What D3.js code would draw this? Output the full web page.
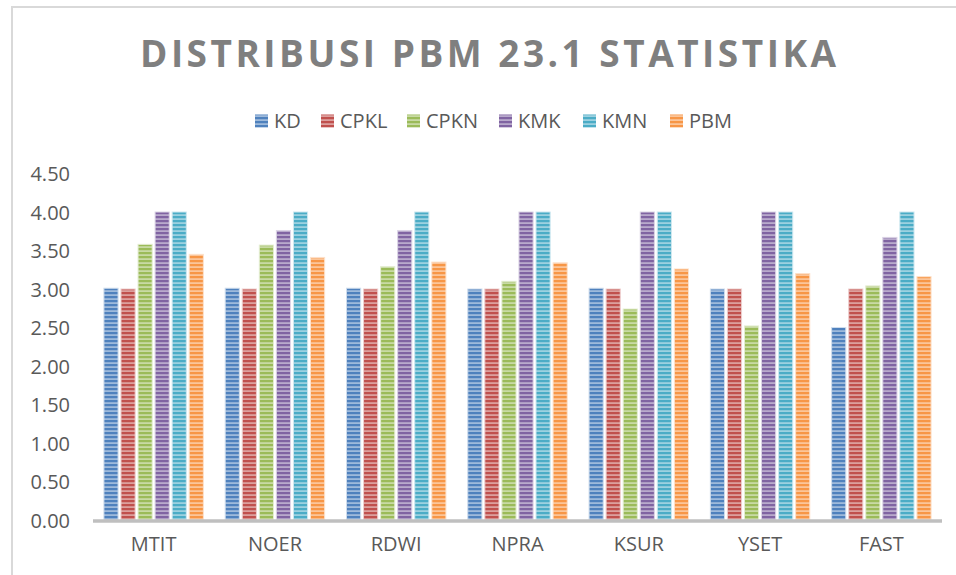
<!DOCTYPE html>
<html>
<head>
<meta charset="utf-8">
<script src="https://cdn.jsdelivr.net/npm/d3@7"></script>
<style>
  html, body { margin: 0; padding: 0; background: #fff; }
  svg { display: block; }
</style>
</head>
<body>
<svg id="chart" width="956" height="575"></svg>
<script>
const categories = ["MTIT", "NOER", "RDWI", "NPRA", "KSUR", "YSET", "FAST"];
const seriesNames = ["KD", "CPKL", "CPKN", "KMK", "KMN", "PBM"];
const KD   = [3.01, 3.01, 3.01, 3.00, 3.01, 3.00, 2.50];
const CPKL = [3.00, 3.00, 3.00, 3.00, 3.00, 3.00, 3.00];
const CPKN = [3.58, 3.57, 3.29, 3.10, 2.74, 2.52, 3.04];
const KMK  = [4.00, 3.76, 3.76, 4.00, 4.00, 4.00, 3.67];
const KMN  = [4.00, 4.00, 4.00, 4.00, 4.00, 4.00, 4.00];
const PBM  = [3.45, 3.41, 3.35, 3.34, 3.26, 3.20, 3.16];
const yTicks = [0, 0.5, 1, 1.5, 2, 2.5, 3, 3.5, 4, 4.5];
const title = "DISTRIBUSI PBM 23.1 STATISTIKA";

const seriesValues = [KD, CPKL, CPKN, KMK, KMN, PBM];
const colors = ["#4F81BD", "#C0504D", "#9BBB59", "#8064A2", "#4BACC6", "#F79646"];
const lightColors = colors.map(c => d3.interpolateRgb(c, "#ffffff")(0.45));

const svg = d3.select("#chart");
const font = "'Open Sans', 'Noto Sans', sans-serif";

// patterns
const defs = svg.append("defs");
colors.forEach((c, i) => {
  const p = defs.append("pattern")
    .attr("id", "pat" + i)
    .attr("patternUnits", "userSpaceOnUse")
    .attr("width", 8).attr("height", 4);
  p.append("rect").attr("width", 8).attr("height", 4).attr("fill", lightColors[i]);
  p.append("rect").attr("y", 0).attr("width", 8).attr("height", 2.2).attr("fill", c);
});

// chart border
svg.append("path")
  .attr("d", "M12,575 L12,7 L956,7")
  .attr("fill", "none").attr("stroke", "#d9d9d9").attr("stroke-width", 2);

// title
svg.append("text")
  .attr("x", 488).attr("y", 67)
  .attr("text-anchor", "middle")
  .attr("font-family", font)
  .attr("font-weight", "bold")
  .attr("font-size", 37)
  .attr("fill", "#7f7f7f")
  .attr("textLength", 696)
  .attr("lengthAdjust", "spacing")
  .text(title);

const plotRight = 942, plotBottom = 520;

const y = d3.scaleLinear().domain([0, 4.5]).range([plotBottom, 173.5]);
const x0 = d3.scaleBand().domain(categories).range([93, plotRight]).paddingInner(0).paddingOuter(0);
const bw0 = x0.bandwidth();
const x1 = d3.scaleBand().domain(seriesNames)
  .range([bw0 * 0.09, bw0 * 0.91]).paddingInner(0.17);

// y axis labels
const yAxis = d3.axisLeft(y).tickValues(yTicks).tickFormat(d3.format(".2f")).tickSize(0).tickPadding(0);
const gy = svg.append("g").attr("transform", "translate(70,0)").call(yAxis);
gy.select(".domain").remove();
gy.selectAll("text")
  .attr("font-family", font).attr("font-size", 20).attr("fill", "#595959")
  .attr("dy", "0.36em");

// bars
const groups = svg.append("g").selectAll("g")
  .data(categories)
  .join("g")
  .attr("transform", d => `translate(${x0(d)},0)`);

groups.selectAll("rect")
  .data((d, ci) => seriesNames.map((s, si) => ({ s, si, v: seriesValues[si][ci] })))
  .join("rect")
  .attr("x", d => x1(d.s))
  .attr("width", x1.bandwidth())
  .attr("y", d => y(d.v))
  .attr("height", d => y(0) - y(d.v))
  .attr("fill", d => `url(#pat${d.si})`)
  .attr("stroke", d => d3.interpolateRgb(lightColors[d.si], "#ffffff")(0.5))
  .attr("stroke-width", 1);

// x axis
const xAxis = d3.axisBottom(x0).tickSize(0).tickPadding(0);
const gx = svg.append("g").attr("transform", `translate(0,${plotBottom})`).call(xAxis);
gx.select(".domain").remove();
gx.selectAll("text")
  .attr("font-family", font).attr("font-size", 20).attr("fill", "#595959")
  .attr("dy", "1.55em");
svg.append("line")
  .attr("x1", 93).attr("x2", plotRight)
  .attr("y1", plotBottom + 1).attr("y2", plotBottom + 1)
  .attr("stroke", "#bfbfbf").attr("stroke-width", 3.5);

// legend
const legendX = [255, 321, 407, 499, 583, 670];
const legend = svg.append("g").selectAll("g")
  .data(seriesNames)
  .join("g")
  .attr("transform", (d, i) => `translate(${legendX[i]},121)`);
legend.append("rect")
  .attr("x", 0).attr("y", -6.5).attr("width", 13).attr("height", 13)
  .attr("fill", (d, i) => `url(#pat${i})`);
legend.append("text")
  .attr("x", 19).attr("y", 0).attr("dy", "0.36em")
  .attr("font-family", font).attr("font-size", 20).attr("fill", "#595959")
  .text(d => d);
</script>
</body>
</html>
